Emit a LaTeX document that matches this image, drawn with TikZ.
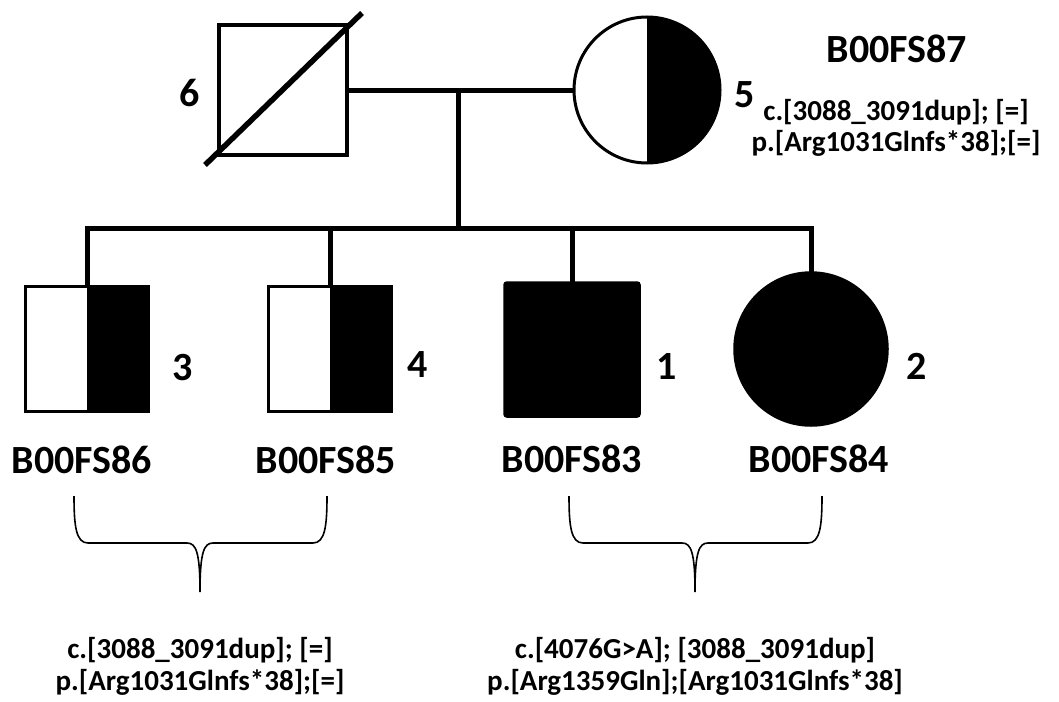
\documentclass[tikz,border=0pt]{standalone}
\usepackage{fontspec}
\setmainfont{Carlito}
\begin{document}
\begin{tikzpicture}[x=1pt,y=-1pt,
  lbl/.style={font=\fontsize{40}{48}\selectfont\bfseries, anchor=base, inner sep=0pt},
  mut/.style={font=\fontsize{29}{34}\selectfont\bfseries, anchor=base, inner sep=0pt},
  sym/.style={draw=black, line width=3.5pt, inner sep=0pt, outer sep=0pt},
  sqsmall/.style={sym, rectangle, minimum width=123pt, minimum height=125pt},
  halfright/.style={path picture={\fill[black] (path picture bounding box.south) rectangle (path picture bounding box.north east);}},
  conn/.style={line width=5pt},
  brace/.style={line width=1.6pt}
]
\useasboundingbox (0,0) rectangle (1059,701);

% parents
\node[sym, rectangle, minimum width=128pt, minimum height=130pt] (p6) at (283,90) {};
\draw[line width=5.5pt] (205,165) -- (362,13);
\node[sym, circle, line width=3pt, minimum size=146pt, halfright] (p5) at (647,90) {};

% children
\node[sqsmall, halfright] (p3) at (87,349) {};
\node[sqsmall, halfright] (p4) at (330,349) {};
\node[sym, rectangle, fill=black, rounded corners=2pt, minimum width=134pt, minimum height=133pt] (p1) at (572,349.5) {};
\node[sym, circle, fill=black, minimum size=152pt] (p2) at (811,349) {};

% connectors
\coordinate (m) at (458,90);
\coordinate (sib) at (458,228);
\draw[conn] (p6.east) -- (p5.west);
\draw[conn] (m) -- (sib);
\draw[conn, line join=miter] (p3.north) |- (p2.north |- sib) -- (p2.north);
\draw[conn] (p4.north) -- (p4.north |- sib);
\draw[conn] (p1.north) -- (p1.north |- sib);

% numbers
\node[lbl] (n6) at (190,106) {6};
\node[lbl] (n5) at (745,107) {5};
\node[lbl] (n3) at (183,380) {3};
\node[lbl] (n4) at (418,377) {4};
\node[lbl] (n1) at (667,379) {1};
\node[lbl] (n2) at (917,379) {2};

% names
\node[lbl] (id87) at (897,63) {B00FS87};
\node[lbl] (id86) at (82,473) {B00FS86};
\node[lbl] (id85) at (326,473) {B00FS85};
\node[lbl] (id83) at (572,472) {B00FS83};
\node[lbl] (id84) at (819,472) {B00FS84};

% mutation texts
\node[mut] (c5) at (896,120) {c.[3088\_3091dup]; [=]};
\node[mut] (pp5) at (896,151) {p.[Arg1031Glnfs*38];[=]};
\node[mut] (cL) at (200,658) {c.[3088\_3091dup]; [=]};
\node[mut] (pL) at (200,690) {p.[Arg1031Glnfs*38];[=]};
\node[mut] (cR) at (695,658) {c.[4076G>A]; [3088\_3091dup]};
\node[mut] (pR) at (695,690) {p.[Arg1359Gln];[Arg1031Glnfs*38]};

% braces
\draw[brace] (74,496) .. controls (74,526) and (76,543) .. (88,543) -- (187,543)
  .. controls (196,543) and (200,552) .. (200,592)
  .. controls (200,552) and (204,543) .. (213,543) -- (313,543)
  .. controls (325,543) and (327,526) .. (327,496);
\draw[brace] (569,496) .. controls (569,526) and (571,543) .. (583,543) -- (682,543)
  .. controls (691,543) and (695,552) .. (695,592)
  .. controls (695,552) and (699,543) .. (708,543) -- (808,543)
  .. controls (820,543) and (822,526) .. (822,496);
\end{tikzpicture}
\end{document}
